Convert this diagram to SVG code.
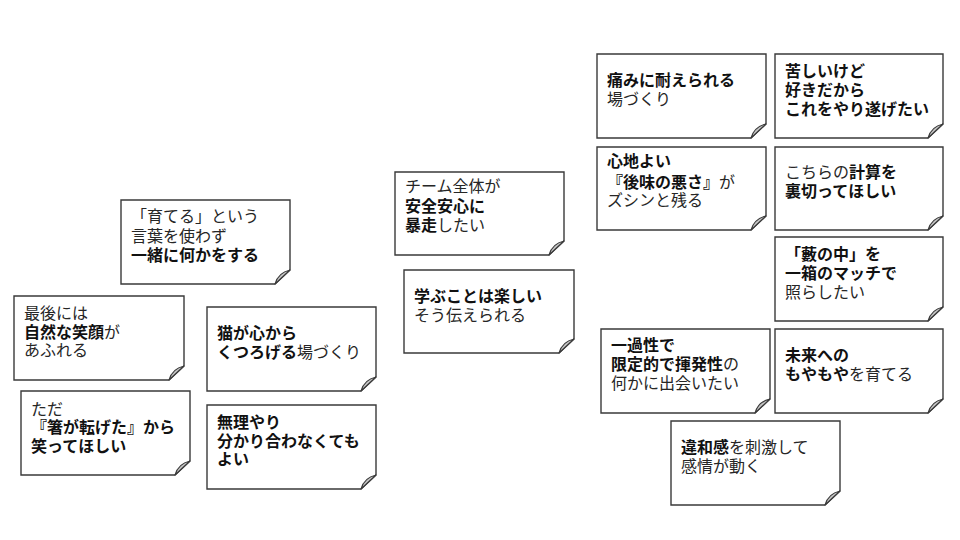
<svg xmlns="http://www.w3.org/2000/svg" xmlns:xlink="http://www.w3.org/1999/xlink" width="960" height="540" viewBox="0 0 960 540">
<style>
.note{fill:#fff;stroke:#3a3a3a;stroke-width:1.4}
.curl{fill:#c4c4c4;stroke:#3a3a3a;stroke-width:1.1;stroke-linejoin:round}
text{font-family:"Liberation Sans","Noto Sans CJK JP",sans-serif;font-size:16px;fill:#262626}
.b{font-weight:bold;fill:#111}
</style>
<defs>
<path id="curl" class="curl" d="M-15,0 C-13,-7 -9,-12 0,-14 Z"/>
</defs>
<rect width="960" height="540" fill="#fff"/>
<g id="connectors"/>

<g id="n1">
<path class="note" d="M121,200 H290 V270 L275,284 H121 Z"/><use xlink:href="#curl" x="290" y="284"/>
<text><tspan x="131" y="222">「育てる」という</tspan><tspan x="131" y="242">言葉を使わず</tspan><tspan x="131" y="261" class="b">一緒に何かをする</tspan></text>
</g>
<g id="n2">
<path class="note" d="M14,296 H184 V366 L169,380 H14 Z"/><use xlink:href="#curl" x="184" y="380"/>
<text><tspan x="24" y="319">最後には</tspan><tspan x="24" y="338" class="b">自然な笑顔</tspan><tspan>が</tspan><tspan x="24" y="356">あふれる</tspan></text>
</g>
<g id="n3">
<path class="note" d="M207,307 H376 V377 L361,391 H207 Z"/><use xlink:href="#curl" x="376" y="391"/>
<text><tspan x="217" y="339" class="b">猫が心から</tspan><tspan x="217" y="358" class="b">くつろげる</tspan><tspan>場づくり</tspan></text>
</g>
<g id="n4">
<path class="note" d="M21,391 H190 V461 L175,475 H21 Z"/><use xlink:href="#curl" x="190" y="475"/>
<text><tspan x="31" y="415">ただ</tspan><tspan x="31" y="433" class="b">『箸が転げた』から</tspan><tspan x="31" y="452" class="b">笑ってほしい</tspan></text>
</g>
<g id="n5">
<path class="note" d="M207,405 H376 V475 L361,489 H207 Z"/><use xlink:href="#curl" x="376" y="489"/>
<text class="b"><tspan x="217" y="428">無理やり</tspan><tspan x="217" y="447">分かり合わなくても</tspan><tspan x="217" y="465">よい</tspan></text>
</g>
<g id="n6">
<path class="note" d="M395,172 H564 V241 L549,255 H395 Z"/><use xlink:href="#curl" x="564" y="255"/>
<text><tspan x="405" y="192">チーム全体が</tspan><tspan x="405" y="212" class="b">安全安心に</tspan><tspan x="405" y="231" class="b">暴走</tspan><tspan>したい</tspan></text>
</g>
<g id="n7">
<path class="note" d="M404,270 H574 V339 L559,353 H404 Z"/><use xlink:href="#curl" x="574" y="353"/>
<text><tspan x="414" y="302" class="b">学ぶことは楽しい</tspan><tspan x="414" y="321">そう伝えられる</tspan></text>
</g>
<g id="n8">
<path class="note" d="M597,54 H766 V124 L751,138 H597 Z"/><use xlink:href="#curl" x="766" y="138"/>
<text><tspan x="607" y="86" class="b">痛みに耐えられる</tspan><tspan x="607" y="105">場づくり</tspan></text>
</g>
<g id="n9">
<path class="note" d="M775,54 H943 V124 L928,138 H775 Z"/><use xlink:href="#curl" x="943" y="138"/>
<text class="b"><tspan x="785" y="77">苦しいけど</tspan><tspan x="785" y="96">好きだから</tspan><tspan x="785" y="115">これをやり遂げたい</tspan></text>
</g>
<g id="n10">
<path class="note" d="M597,147 H766 V216 L751,230 H597 Z"/><use xlink:href="#curl" x="766" y="230"/>
<text><tspan x="607" y="167" class="b">心地よい</tspan><tspan x="607" y="188" class="b">『後味の悪さ』</tspan><tspan>が</tspan><tspan x="607" y="206">ズシンと残る</tspan></text>
</g>
<g id="n11">
<path class="note" d="M775,147 H943 V216 L928,230 H775 Z"/><use xlink:href="#curl" x="943" y="230"/>
<text><tspan x="785" y="178">こちらの</tspan><tspan class="b">計算を</tspan><tspan x="785" y="197" class="b">裏切ってほしい</tspan></text>
</g>
<g id="n12">
<path class="note" d="M775,237 H943 V307 L928,321 H775 Z"/><use xlink:href="#curl" x="943" y="321"/>
<text><tspan x="785" y="260" class="b">「藪の中」を</tspan><tspan x="785" y="279" class="b">一箱のマッチで</tspan><tspan x="785" y="298">照らしたい</tspan></text>
</g>
<g id="n13">
<path class="note" d="M601,329 H770 V399 L755,413 H601 Z"/><use xlink:href="#curl" x="770" y="413"/>
<text><tspan x="611" y="351" class="b">一過性で</tspan><tspan x="611" y="370" class="b">限定的で揮発性</tspan><tspan>の</tspan><tspan x="611" y="389">何かに出会いたい</tspan></text>
</g>
<g id="n14">
<path class="note" d="M775,329 H943 V399 L928,413 H775 Z"/><use xlink:href="#curl" x="943" y="413"/>
<text><tspan x="785" y="361" class="b">未来への</tspan><tspan x="785" y="380" class="b">もやもや</tspan><tspan>を育てる</tspan></text>
</g>
<g id="n15">
<path class="note" d="M671,421 H840 V491 L825,505 H671 Z"/><use xlink:href="#curl" x="840" y="505"/>
<text><tspan x="681" y="453" class="b">違和感</tspan><tspan>を刺激して</tspan><tspan x="681" y="472">感情が動く</tspan></text>
</g>
</svg>
